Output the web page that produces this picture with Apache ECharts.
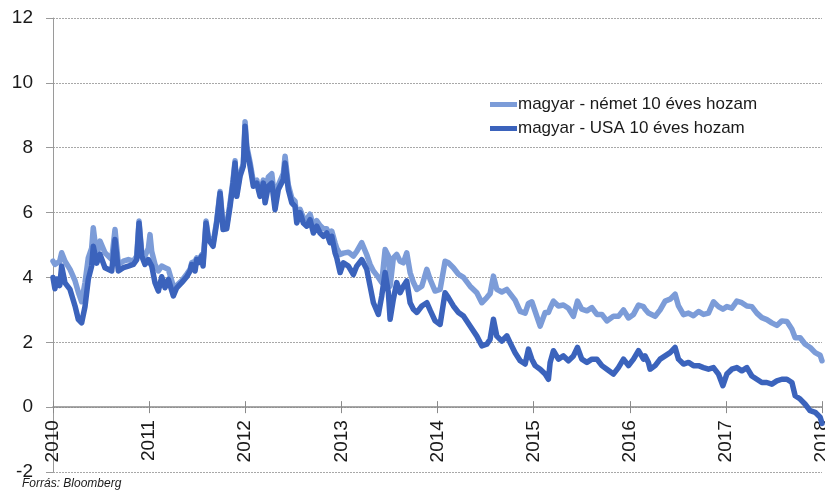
<!DOCTYPE html>
<html>
<head>
<meta charset="utf-8">
<script src="https://cdn.jsdelivr.net/npm/echarts@6/dist/echarts.min.js"></script>
<style>
html,body{margin:0;padding:0;background:#fff;}
#chart{width:825px;height:495px;}
</style>
</head>
<body>
<div id="chart"></div>
<script>
// Decimal years (shared x values)
var years = [
2010.00,2010.02,2010.04,2010.07,2010.09,2010.125,2010.177,2010.229,2010.263,2010.298,
2010.333,2010.367,2010.402,2010.419,2010.455,2010.489,2010.541,2010.611,2010.645,2010.680,
2010.732,2010.784,2010.836,2010.871,2010.895,2010.923,2010.957,2010.992,2011.009,2011.027,
2011.061,2011.096,2011.131,2011.165,2011.200,2011.252,2011.287,2011.339,2011.391,2011.426,
2011.443,2011.478,2011.495,2011.512,2011.547,2011.561,2011.592,2011.616,2011.634,2011.665,
2011.703,2011.738,2011.769,2011.807,2011.842,2011.873,2011.894,2011.912,2011.946,2011.980,
2011.998,2012.016,2012.050,2012.084,2012.120,2012.154,2012.188,2012.206,2012.240,2012.276,
2012.310,2012.344,2012.396,2012.414,2012.448,2012.484,2012.518,2012.536,2012.570,2012.604,
2012.640,2012.674,2012.709,2012.744,2012.778,2012.813,2012.848,2012.882,2012.900,2012.934,
2012.952,2012.987,2013.021,2013.073,2013.125,2013.160,2013.212,2013.264,2013.299,2013.333,
2013.385,2013.420,2013.455,2013.489,2013.507,2013.541,2013.576,2013.611,2013.645,2013.680,
2013.715,2013.749,2013.785,2013.837,2013.889,2013.923,2013.975,2014.027,2014.079,2014.113,
2014.165,2014.218,2014.270,2014.339,2014.409,2014.461,2014.513,2014.547,2014.582,2014.617,
2014.669,2014.721,2014.755,2014.807,2014.860,2014.912,2014.946,2014.981,2015.016,2015.068,
2015.120,2015.154,2015.172,2015.206,2015.258,2015.310,2015.362,2015.414,2015.456,2015.501,
2015.554,2015.606,2015.658,2015.710,2015.762,2015.830,2015.882,2015.935,2015.987,2016.039,
2016.091,2016.143,2016.160,2016.194,2016.212,2016.264,2016.316,2016.368,2016.420,2016.472,
2016.507,2016.559,2016.611,2016.663,2016.715,2016.767,2016.819,2016.871,2016.923,2016.969,
2017.010,2017.062,2017.114,2017.166,2017.218,2017.270,2017.322,2017.374,2017.426,2017.478,
2017.530,2017.582,2017.635,2017.687,2017.721,2017.773,2017.825,2017.877,2017.929,2017.981,2018.0
];

// magyar - német 10 éves hozam (spread)
var deValues = [
4.5,4.4,4.35,4.5,4.76,4.5,4.25,3.9,3.55,3.25,
3.84,4.6,4.9,5.53,4.66,5.12,4.76,4.55,5.48,4.4,
4.5,4.55,4.5,4.66,5.74,4.76,4.66,4.9,5.32,4.8,
4.4,4.2,4.35,4.3,4.25,3.73,3.75,3.9,4.1,4.25,
4.45,4.5,4.6,4.5,4.7,4.45,5.74,5.25,5.25,5.05,
5.75,6.65,5.6,5.6,6.3,7.0,7.6,6.6,7.2,7.5,
8.8,8.05,7.55,6.95,7.0,6.6,7.0,6.5,7.1,7.2,
6.3,6.85,7.2,7.74,6.85,6.45,6.35,5.85,6.1,5.85,
5.8,5.95,5.6,5.75,5.6,5.5,5.5,5.2,5.43,5.07,
4.9,4.71,4.75,4.78,4.66,4.8,5.07,4.7,4.4,4.2,
4.0,3.84,4.86,4.66,3.73,4.6,4.71,4.5,4.45,4.76,
4.15,3.85,3.63,3.73,4.25,3.94,3.58,3.63,4.5,4.45,
4.3,4.1,4.0,3.73,3.53,3.22,3.38,3.5,4.04,3.63,
3.55,3.63,3.5,3.3,2.95,2.9,3.2,3.25,2.95,2.5,
2.92,2.92,3.05,3.27,3.12,3.15,3.05,2.8,3.27,3.02,
2.97,3.07,2.86,2.86,2.66,2.8,2.8,3.0,2.75,2.86,
3.15,3.1,3.02,2.9,2.86,2.8,3.0,3.27,3.33,3.48,
3.12,2.85,2.9,2.82,2.95,2.86,2.9,3.25,3.1,3.02,
3.1,3.05,3.27,3.22,3.12,3.1,2.9,2.76,2.7,2.6,
2.52,2.66,2.64,2.4,2.14,2.14,1.94,1.84,1.68,1.6,1.43
];

// magyar - USA 10 éves hozam (spread)
var usValues = [
4.0,3.65,3.95,3.75,4.35,3.83,3.63,3.12,2.71,2.6,
3.1,3.94,4.35,4.96,4.44,4.71,4.3,4.2,5.17,4.2,
4.3,4.35,4.4,4.55,5.68,4.66,4.4,4.55,4.45,4.35,
3.84,3.58,4.02,3.68,3.94,3.43,3.68,3.84,4.02,4.2,
4.4,4.2,4.55,4.45,4.66,4.35,5.68,5.17,5.17,4.96,
5.68,6.6,5.48,5.5,6.19,6.91,7.53,6.5,7.12,7.43,
8.66,7.94,7.43,6.81,6.91,6.5,6.91,6.3,6.81,6.91,
6.09,6.71,7.02,7.53,6.71,6.3,6.19,5.68,6.0,5.68,
5.58,5.78,5.37,5.58,5.37,5.27,5.37,5.07,5.27,4.76,
4.6,4.15,4.45,4.35,4.09,4.35,4.55,4.25,3.73,3.22,
2.86,3.43,4.15,3.53,2.71,3.33,3.84,3.53,3.73,3.89,
3.22,3.02,2.92,3.12,3.22,2.99,2.66,2.55,3.53,3.38,
3.12,2.92,2.81,2.5,2.19,1.89,1.94,2.09,2.71,2.19,
2.04,2.2,1.99,1.68,1.43,1.33,1.79,1.48,1.28,1.17,
1.02,0.86,1.38,1.74,1.48,1.58,1.43,1.58,1.84,1.48,
1.38,1.48,1.48,1.28,1.17,1.02,1.22,1.48,1.28,1.48,
1.74,1.48,1.58,1.38,1.17,1.28,1.48,1.58,1.68,1.84,
1.48,1.33,1.38,1.28,1.28,1.22,1.17,1.22,1.02,0.66,
1.02,1.17,1.22,1.12,1.22,0.96,0.86,0.76,0.76,0.71,
0.81,0.86,0.86,0.76,0.35,0.25,0.09,-0.11,-0.16,-0.31,-0.5
];

var seriesNames = ['magyar - német 10 éves hozam', 'magyar - USA 10 éves hozam'];
var yTicks = { min: -2, max: 12, step: 2 };
var xTicks = { min: 2010, max: 2018, step: 1 };
var sourceText = 'Forrás: Bloomberg';

var chart = echarts.init(document.getElementById('chart'), null, { renderer: 'canvas' });
var font = "'Liberation Sans', Arial, sans-serif";

function pairs(vals) {
  var out = [];
  for (var i = 0; i < years.length && i < vals.length; i++) out.push([years[i], vals[i]]);
  return out;
}

// grid: top 18, bottom 23 -> plot height 454; zero line sits 2/14 of it above the bottom
var plotTop = 18, plotBottom = 23, plotH = 495 - plotTop - plotBottom;
var zeroOffset = -plotH * (0 - yTicks.min) / (yTicks.max - yTicks.min);

chart.setOption({
  animation: false,
  backgroundColor: '#ffffff',
  grid: { left: 53, right: 3, top: plotTop, bottom: plotBottom, containLabel: false, outerBoundsMode: 'none' },
  legend: {
    orient: 'vertical',
    left: 485,
    top: 91,
    itemWidth: 27,
    itemHeight: 5,
    itemGap: 7,
    icon: 'rect',
    textStyle: { fontFamily: font, fontSize: 17, color: '#1a1a1a', padding: [0, 0, 0, -4] },
    data: seriesNames
  },
  xAxis: [{
    type: 'value',
    position: 'bottom',
    offset: zeroOffset,
    min: xTicks.min,
    max: xTicks.max,
    interval: xTicks.step,
    axisLine: { onZero: false, lineStyle: { color: '#8a8a8a', width: 1.5 } },
    axisTick: { show: true, length: 6, lineStyle: { color: '#8a8a8a' } },
    splitLine: { show: false },
    axisLabel: {
      rotate: 90,
      margin: 13,
      fontFamily: font,
      fontSize: 19,
      color: '#1a1a1a',
      showMinLabel: true,
      showMaxLabel: true,
      formatter: function (v) { return String(Math.round(v)); }
    }
  }, {
    // same scale, only draws the upper half of the crossing year ticks
    type: 'value',
    position: 'bottom',
    offset: zeroOffset,
    min: xTicks.min,
    max: xTicks.max,
    interval: xTicks.step,
    axisLine: { show: false, onZero: false },
    axisTick: { show: true, inside: true, length: 6, lineStyle: { color: '#8a8a8a' } },
    axisLabel: { show: false },
    splitLine: { show: false }
  }],
  yAxis: {
    type: 'value',
    min: yTicks.min,
    max: yTicks.max,
    interval: yTicks.step,
    axisLine: { show: true, onZero: false, lineStyle: { color: '#9a9a9a', width: 1 } },
    axisTick: { show: true, length: 7, lineStyle: { color: '#9a9a9a' } },
    splitLine: { show: true, lineStyle: { color: '#a8a8a8', type: [2, 1], width: 1 } },
    axisLabel: { margin: 20, fontFamily: font, fontSize: 19, color: '#1a1a1a' }
  },
  series: [
    {
      name: seriesNames[0],
      type: 'line',
      data: pairs(deValues),
      showSymbol: false,
      symbol: 'none',
      lineStyle: { color: '#7c9cd8', width: 5.5, join: 'round', cap: 'round' },
      itemStyle: { color: '#7c9cd8' },
      z: 2
    },
    {
      name: seriesNames[1],
      type: 'line',
      data: pairs(usValues),
      showSymbol: false,
      symbol: 'none',
      lineStyle: { color: '#3b63bc', width: 5.5, join: 'round', cap: 'round' },
      itemStyle: { color: '#3b63bc' },
      z: 3
    }
  ],
  graphic: [
    {
      type: 'text',
      left: 22,
      top: 478,
      style: { text: sourceText, font: 'italic 12px ' + font, fill: '#1a1a1a' }
    }
  ]
});
</script>
</body>
</html>
